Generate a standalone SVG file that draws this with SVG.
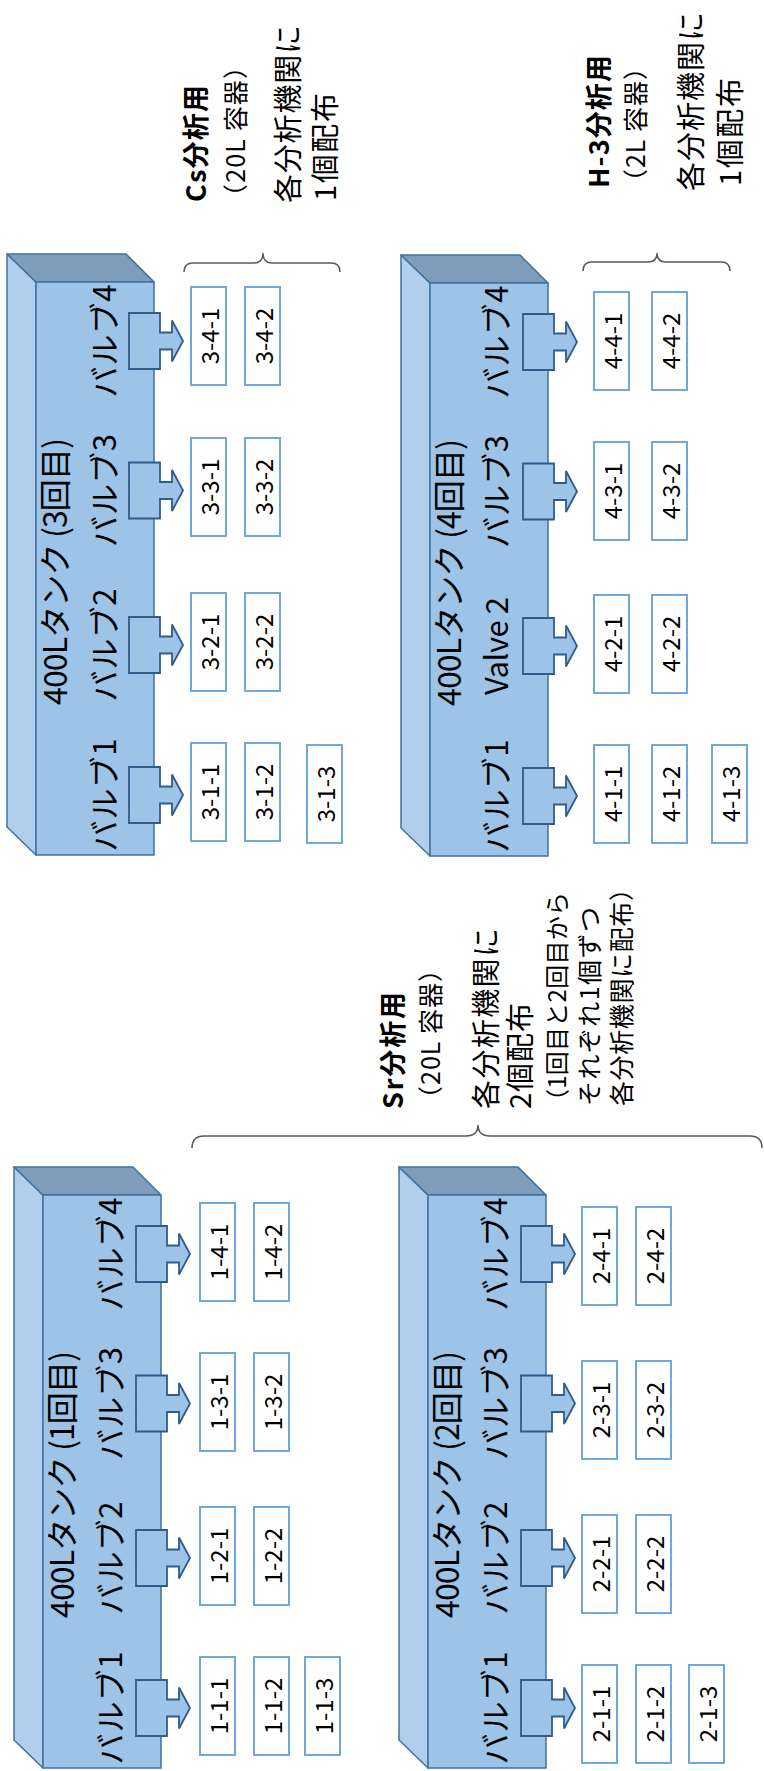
<svg xmlns="http://www.w3.org/2000/svg" width="764" height="1771" viewBox="0 0 764 1771">
<style>
text{font-family:"Noto Sans CJK JP","Noto Sans",sans-serif;fill:#000}
.front{fill:#9DC3E6;stroke:#41719C;stroke-width:1.5}
.side{fill:#B1CFEC;stroke:#41719C;stroke-width:1.5;stroke-linejoin:round}
.top{fill:#7E9DBB;stroke:#41719C;stroke-width:1.5;stroke-linejoin:round}
.arw{fill:#9DC3E6;stroke:#2F5C8A;stroke-width:1.8}
.box{fill:#fff;stroke:#6FA8DC;stroke-width:2}
.bl{font-size:24px;text-anchor:middle;dominant-baseline:central}
.tl{font-size:32px}
.vl{font-size:31px;text-anchor:middle}
.hd{font-size:27px;font-weight:bold}
.sm{font-size:25px}
.md{font-size:29px}
.brace{fill:none;stroke:#595959;stroke-width:1.5}
</style>
<rect width="764" height="1771" fill="#fff"/>

<!-- Tank 3 -->
<g id="tank3">
<path class="side" d="M7,254 L36,282 L36,855 L7,827 Z"/>
<path class="top" d="M7,254 L126,254 L154,282 L36,282 Z"/>
<rect class="front" x="36" y="282" width="118" height="573"/>
<text class="tl" transform="translate(67,705) rotate(-90)" textLength="267" lengthAdjust="spacing">400Lタンク (3回目)</text>
</g>
<g id="tank3-valves">
<path class="arw" d="M129,313 H160 V332.5 H172 V320.5 L183,341 L172,361.5 V349.5 H160 V369 H129 Z"/>
<path class="arw" d="M129,462.5 H160 V482 H172 V470 L183,490.5 L172,511 V499 H160 V518.5 H129 Z"/>
<path class="arw" d="M129,617 H160 V636.5 H172 V624.5 L183,645 L172,665.5 V653.5 H160 V673 H129 Z"/>
<path class="arw" d="M129,767 H160 V786.5 H172 V774.5 L183,795 L172,815.5 V803.5 H160 V823 H129 Z"/>
<text class="vl" transform="translate(116,341) rotate(-90)" textLength="113" lengthAdjust="spacing">バルブ4</text>
<text class="vl" transform="translate(116,490.5) rotate(-90)" textLength="113" lengthAdjust="spacing">バルブ3</text>
<text class="vl" transform="translate(116,645) rotate(-90)" textLength="113" lengthAdjust="spacing">バルブ2</text>
<text class="vl" transform="translate(116,795) rotate(-90)" textLength="113" lengthAdjust="spacing">バルブ1</text>
</g>
<g id="samples3">
<rect class="box" x="191" y="287" width="35" height="98"/><text class="bl" transform="translate(208.5,336) rotate(-90)">3-4-1</text>
<rect class="box" x="245" y="287" width="35" height="98"/><text class="bl" transform="translate(262.5,336) rotate(-90)">3-4-2</text>
<rect class="box" x="191" y="438" width="35" height="98"/><text class="bl" transform="translate(208.5,487) rotate(-90)">3-3-1</text>
<rect class="box" x="245" y="438" width="35" height="98"/><text class="bl" transform="translate(262.5,487) rotate(-90)">3-3-2</text>
<rect class="box" x="191" y="593" width="35" height="98"/><text class="bl" transform="translate(208.5,642) rotate(-90)">3-2-1</text>
<rect class="box" x="245" y="593" width="35" height="98"/><text class="bl" transform="translate(262.5,642) rotate(-90)">3-2-2</text>
<rect class="box" x="191" y="743" width="35" height="98"/><text class="bl" transform="translate(208.5,792) rotate(-90)">3-1-1</text>
<rect class="box" x="245" y="743" width="35" height="98"/><text class="bl" transform="translate(262.5,792) rotate(-90)">3-1-2</text>
<rect class="box" x="307" y="745" width="35" height="98"/><text class="bl" transform="translate(324.5,794) rotate(-90)">3-1-3</text>
</g>

<!-- Tank 4 -->
<g id="tank4">
<path class="side" d="M401,255 L430,283 L430,856 L401,828 Z"/>
<path class="top" d="M401,255 L520,255 L548,283 L430,283 Z"/>
<rect class="front" x="430" y="283" width="118" height="573"/>
<text class="tl" transform="translate(461,706) rotate(-90)" textLength="267" lengthAdjust="spacing">400Lタンク (4回目)</text>
</g>
<g id="tank4-valves">
<path class="arw" d="M523,314 H554 V333.5 H566 V321.5 L577,342 L566,362.5 V350.5 H554 V370 H523 Z"/>
<path class="arw" d="M523,463.5 H554 V483 H566 V471 L577,491.5 L566,512 V500 H554 V519.5 H523 Z"/>
<path class="arw" d="M523,618 H554 V637.5 H566 V625.5 L577,646 L566,666.5 V654.5 H554 V674 H523 Z"/>
<path class="arw" d="M523,768 H554 V787.5 H566 V775.5 L577,796 L566,816.5 V804.5 H554 V824 H523 Z"/>
<text class="vl" transform="translate(508,342) rotate(-90)" textLength="113" lengthAdjust="spacing">バルブ4</text>
<text class="vl" transform="translate(508,491.5) rotate(-90)" textLength="113" lengthAdjust="spacing">バルブ3</text>
<text class="vl" style="font-size:31px" transform="translate(508,646) rotate(-90)" textLength="98" lengthAdjust="spacing">Valve 2</text>
<text class="vl" transform="translate(508,796) rotate(-90)" textLength="113" lengthAdjust="spacing">バルブ1</text>
</g>
<g id="samples4">
<rect class="box" x="594" y="292" width="35" height="98"/><text class="bl" transform="translate(611.5,341) rotate(-90)">4-4-1</text>
<rect class="box" x="652" y="292" width="35" height="98"/><text class="bl" transform="translate(669.5,341) rotate(-90)">4-4-2</text>
<rect class="box" x="594" y="442" width="35" height="98"/><text class="bl" transform="translate(611.5,491) rotate(-90)">4-3-1</text>
<rect class="box" x="652" y="442" width="35" height="98"/><text class="bl" transform="translate(669.5,491) rotate(-90)">4-3-2</text>
<rect class="box" x="594" y="595" width="35" height="98"/><text class="bl" transform="translate(611.5,644) rotate(-90)">4-2-1</text>
<rect class="box" x="652" y="595" width="35" height="98"/><text class="bl" transform="translate(669.5,644) rotate(-90)">4-2-2</text>
<rect class="box" x="594" y="745" width="35" height="98"/><text class="bl" transform="translate(611.5,794) rotate(-90)">4-1-1</text>
<rect class="box" x="652" y="745" width="35" height="98"/><text class="bl" transform="translate(669.5,794) rotate(-90)">4-1-2</text>
<rect class="box" x="712" y="745" width="35" height="98"/><text class="bl" transform="translate(729.5,794) rotate(-90)">4-1-3</text>
</g>

<!-- Tank 1 -->
<g id="tank1">
<path class="side" d="M14,1167 L43,1195 L43,1768 L14,1740 Z"/>
<path class="top" d="M14,1167 L133,1167 L161,1195 L43,1195 Z"/>
<rect class="front" x="43" y="1195" width="118" height="573"/>
<text class="tl" transform="translate(74,1618) rotate(-90)" textLength="267" lengthAdjust="spacing">400Lタンク (1回目)</text>
</g>
<g id="tank1-valves">
<path class="arw" d="M136,1226 H167 V1245.5 H179 V1233.5 L190,1254 L179,1274.5 V1262.5 H167 V1282 H136 Z"/>
<path class="arw" d="M136,1375.5 H167 V1395 H179 V1383 L190,1403.5 L179,1424 V1412 H167 V1431.5 H136 Z"/>
<path class="arw" d="M136,1530 H167 V1549.5 H179 V1537.5 L190,1558 L179,1578.5 V1566.5 H167 V1586 H136 Z"/>
<path class="arw" d="M136,1680 H167 V1699.5 H179 V1687.5 L190,1708 L179,1728.5 V1716.5 H167 V1736 H136 Z"/>
<text class="vl" transform="translate(122,1254) rotate(-90)" textLength="113" lengthAdjust="spacing">バルブ4</text>
<text class="vl" transform="translate(122,1403.5) rotate(-90)" textLength="113" lengthAdjust="spacing">バルブ3</text>
<text class="vl" transform="translate(122,1558) rotate(-90)" textLength="113" lengthAdjust="spacing">バルブ2</text>
<text class="vl" transform="translate(122,1708) rotate(-90)" textLength="113" lengthAdjust="spacing">バルブ1</text>
</g>
<g id="samples1">
<rect class="box" x="200" y="1203" width="35" height="98"/><text class="bl" transform="translate(217.5,1252) rotate(-90)">1-4-1</text>
<rect class="box" x="254" y="1203" width="35" height="98"/><text class="bl" transform="translate(271.5,1252) rotate(-90)">1-4-2</text>
<rect class="box" x="200" y="1353" width="35" height="98"/><text class="bl" transform="translate(217.5,1402) rotate(-90)">1-3-1</text>
<rect class="box" x="254" y="1353" width="35" height="98"/><text class="bl" transform="translate(271.5,1402) rotate(-90)">1-3-2</text>
<rect class="box" x="200" y="1507" width="35" height="98"/><text class="bl" transform="translate(217.5,1556) rotate(-90)">1-2-1</text>
<rect class="box" x="254" y="1507" width="35" height="98"/><text class="bl" transform="translate(271.5,1556) rotate(-90)">1-2-2</text>
<rect class="box" x="200" y="1657" width="35" height="98"/><text class="bl" transform="translate(217.5,1706) rotate(-90)">1-1-1</text>
<rect class="box" x="254" y="1657" width="35" height="98"/><text class="bl" transform="translate(271.5,1706) rotate(-90)">1-1-2</text>
<rect class="box" x="305" y="1657" width="35" height="98"/><text class="bl" transform="translate(322.5,1706) rotate(-90)">1-1-3</text>
</g>

<!-- Tank 2 -->
<g id="tank2">
<path class="side" d="M399,1167 L428,1195 L428,1768 L399,1740 Z"/>
<path class="top" d="M399,1167 L518,1167 L546,1195 L428,1195 Z"/>
<rect class="front" x="428" y="1195" width="118" height="573"/>
<text class="tl" transform="translate(459,1618) rotate(-90)" textLength="267" lengthAdjust="spacing">400Lタンク (2回目)</text>
</g>
<g id="tank2-valves">
<path class="arw" d="M521,1226 H552 V1245.5 H564 V1233.5 L575,1254 L564,1274.5 V1262.5 H552 V1282 H521 Z"/>
<path class="arw" d="M521,1375.5 H552 V1395 H564 V1383 L575,1403.5 L564,1424 V1412 H552 V1431.5 H521 Z"/>
<path class="arw" d="M521,1530 H552 V1549.5 H564 V1537.5 L575,1558 L564,1578.5 V1566.5 H552 V1586 H521 Z"/>
<path class="arw" d="M521,1680 H552 V1699.5 H564 V1687.5 L575,1708 L564,1728.5 V1716.5 H552 V1736 H521 Z"/>
<text class="vl" transform="translate(507,1254) rotate(-90)" textLength="113" lengthAdjust="spacing">バルブ4</text>
<text class="vl" transform="translate(507,1403.5) rotate(-90)" textLength="113" lengthAdjust="spacing">バルブ3</text>
<text class="vl" transform="translate(507,1558) rotate(-90)" textLength="113" lengthAdjust="spacing">バルブ2</text>
<text class="vl" transform="translate(507,1708) rotate(-90)" textLength="113" lengthAdjust="spacing">バルブ1</text>
</g>
<g id="samples2">
<rect class="box" x="582" y="1207" width="35" height="98"/><text class="bl" transform="translate(599.5,1256) rotate(-90)">2-4-1</text>
<rect class="box" x="636" y="1207" width="35" height="98"/><text class="bl" transform="translate(653.5,1256) rotate(-90)">2-4-2</text>
<rect class="box" x="582" y="1361" width="35" height="98"/><text class="bl" transform="translate(599.5,1410) rotate(-90)">2-3-1</text>
<rect class="box" x="636" y="1361" width="35" height="98"/><text class="bl" transform="translate(653.5,1410) rotate(-90)">2-3-2</text>
<rect class="box" x="582" y="1515" width="35" height="98"/><text class="bl" transform="translate(599.5,1564) rotate(-90)">2-2-1</text>
<rect class="box" x="636" y="1515" width="35" height="98"/><text class="bl" transform="translate(653.5,1564) rotate(-90)">2-2-2</text>
<rect class="box" x="582" y="1665" width="35" height="98"/><text class="bl" transform="translate(599.5,1714) rotate(-90)">2-1-1</text>
<rect class="box" x="636" y="1665" width="35" height="98"/><text class="bl" transform="translate(653.5,1714) rotate(-90)">2-1-2</text>
<rect class="box" x="689" y="1665" width="35" height="98"/><text class="bl" transform="translate(706.5,1714) rotate(-90)">2-1-3</text>
</g>

<!-- Braces -->
<g id="connectors">
<path class="brace" d="M184,272 Q184,263 193,263 L254,263 Q263,263 263,253 Q263,263 272,263 L331,263 Q340,263 340,272"/>
<path class="brace" d="M583,271 Q583,262 592,262 L648,262 Q657,262 657,253 Q657,262 666,262 L721,262 Q730,262 730,271"/>
<path class="brace" d="M192,1148 Q192,1136 204,1136 L466,1136 Q478,1136 478,1125 Q478,1136 490,1136 L750,1136 Q762,1136 762,1148"/>
</g>

<!-- Labels -->
<g id="label-cs">
<text class="hd" transform="translate(206,202) rotate(-90)" textLength="117" lengthAdjust="spacing">Cs分析用</text>
<text class="sm" transform="translate(245,209) rotate(-90)" textLength="155" lengthAdjust="spacing">（20L 容器）</text>
<text class="md" transform="translate(299,203) rotate(-90)" textLength="178" lengthAdjust="spacing">各分析機関に</text>
<text class="md" transform="translate(336,201) rotate(-90)" textLength="108" lengthAdjust="spacing">1個配布</text>
</g>
<g id="label-h3">
<text class="hd" transform="translate(609,188) rotate(-90)" textLength="133" lengthAdjust="spacing">H-3分析用</text>
<text class="sm" transform="translate(645,194) rotate(-90)" textLength="139" lengthAdjust="spacing">（2L 容器）</text>
<text class="md" transform="translate(702,191) rotate(-90)" textLength="179" lengthAdjust="spacing">各分析機関に</text>
<text class="md" transform="translate(741,186) rotate(-90)" textLength="108" lengthAdjust="spacing">1個配布</text>
</g>
<g id="label-sr">
<text class="hd" transform="translate(403,1109) rotate(-90)" textLength="117" lengthAdjust="spacing">Sr分析用</text>
<text class="sm" transform="translate(440,1111) rotate(-90)" textLength="154" lengthAdjust="spacing">（20L 容器）</text>
<text class="md" transform="translate(497,1109) rotate(-90)" textLength="181" lengthAdjust="spacing">各分析機関に</text>
<text class="md" transform="translate(531,1109) rotate(-90)" textLength="106" lengthAdjust="spacing">2個配布</text>
<text class="sm" style="font-size:24px" transform="translate(566,1113) rotate(-90)" textLength="221" lengthAdjust="spacing">（1回目と2回目から</text>
<text class="sm" transform="translate(599,1106) rotate(-90)" textLength="199" lengthAdjust="spacing">それぞれ1個ずつ</text>
<text class="sm" transform="translate(631,1106) rotate(-90)" textLength="230" lengthAdjust="spacing">各分析機関に配布）</text>
</g>
</svg>
